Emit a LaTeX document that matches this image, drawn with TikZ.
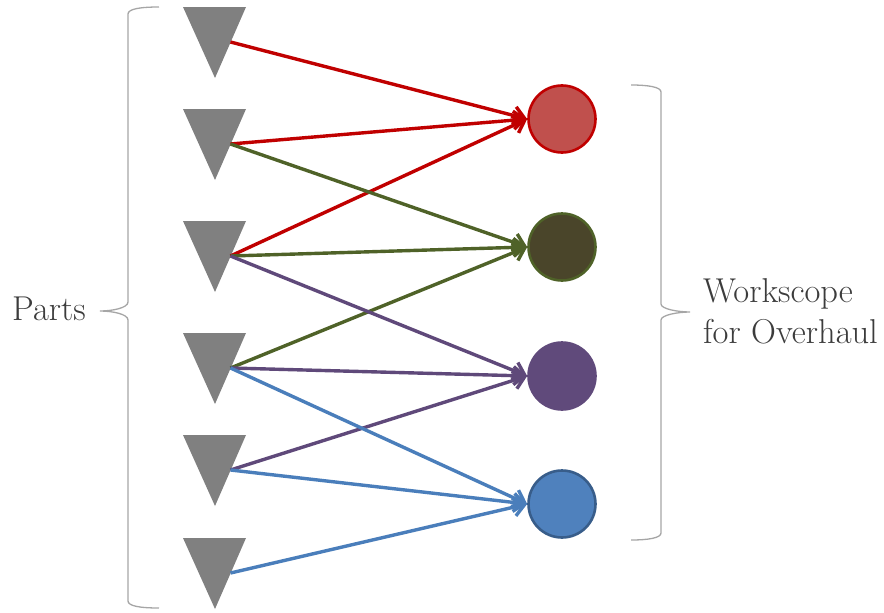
\documentclass[tikz,border=0pt]{standalone}
\usetikzlibrary{arrows.meta}

\definecolor{partgray}{HTML}{808080}
\definecolor{bracegray}{HTML}{A6A6A6}
\definecolor{labelgray}{HTML}{3C3C3C}
\definecolor{redline}{HTML}{C00000}
\definecolor{redfill}{HTML}{C0504D}
\definecolor{greenline}{HTML}{4F6228}
\definecolor{greenfill}{HTML}{4A452A}
\definecolor{purpleline}{HTML}{5F497A}
\definecolor{purplefill}{HTML}{604A7B}
\definecolor{blueline}{HTML}{4A7EBB}
\definecolor{bluefill}{HTML}{4F81BD}
\definecolor{blueborder}{HTML}{385D8A}

\tikzset{
  part/.style={fill=partgray},
  scopecircle/.style={circle, minimum size=67pt, inner sep=0pt, line width=2.6pt},
  link/.style={line width=3.4pt, -{Straight Barb[length=11pt,width=18pt]}},
  brace/.style={draw=bracegray, line width=1.3pt},
  label/.style={font=\fontsize{34.5}{41}\selectfont, text=labelgray, inner sep=0pt}
}

\begin{document}
\begin{tikzpicture}[x=1pt, y=-1pt]
  \useasboundingbox (0,0) rectangle (884,613);

  % the six parts: downward triangles, each with an outlet point on its right edge
  \foreach \i/\y in {1/42, 2/144, 3/256, 4/368, 5/470, 6/573} {
    \fill[part] (183,\y-35) -- (246,\y-35) -- (215,\y+36) -- cycle;
    \coordinate (t\i) at (230.5,\y);
  }

  % workscope circles
  \node[scopecircle, draw=redline, fill=redfill]       (c1) at (562,119) {};
  \node[scopecircle, draw=greenline, fill=greenfill]   (c2) at (562,247) {};
  \node[scopecircle, draw=purplefill, fill=purplefill] (c3) at (562,376) {};
  \node[scopecircle, draw=blueborder, fill=bluefill]   (c4) at (562,504) {};

  % part -> workscope links
  \draw[link, redline] (t1) -- (c1.west);
  \draw[link, redline] (t2) -- (c1.west);
  \draw[link, redline] (t3) -- (c1.west);
  \draw[link, greenline] (t2) -- (c2.west);
  \draw[link, greenline] (t3) -- (c2.west);
  \draw[link, greenline] (t4) -- (c2.west);
  \draw[link, purpleline] (t3) -- (c3.west);
  \draw[link, purpleline] (t4) -- (c3.west);
  \draw[link, purpleline] (t5) -- (c3.west);
  \draw[link, blueline] (t4) -- (c4.west);
  \draw[link, blueline] (t5) -- (c4.west);
  \draw[link, blueline] (t6) -- (c4.west);

  % left brace grouping the parts
  \draw[brace] (159,7) .. controls (140,7) and (128,9) .. (128,14)
    -- (128,302) .. controls (128,308) and (112,311) .. (100,311)
    .. controls (112,311) and (128,314) .. (128,320)
    -- (128,601) .. controls (128,606) and (140,608) .. (159,608);

  % right brace grouping the workscope
  \draw[brace] (631,85) .. controls (648,85) and (661,87) .. (661,92)
    -- (661,304) .. controls (661,309) and (678,312) .. (690,312)
    .. controls (678,312) and (661,315) .. (661,320)
    -- (661,533) .. controls (661,538) and (648,540) .. (631,540);

  \node[label, anchor=base west] (parts) at (12,320) {Parts};
  \node[label, anchor=base west] (ws1) at (703,302) {Workscope};
  \node[label, anchor=base west] (ws2) at (703,343) {for Overhaul};
\end{tikzpicture}
\end{document}
